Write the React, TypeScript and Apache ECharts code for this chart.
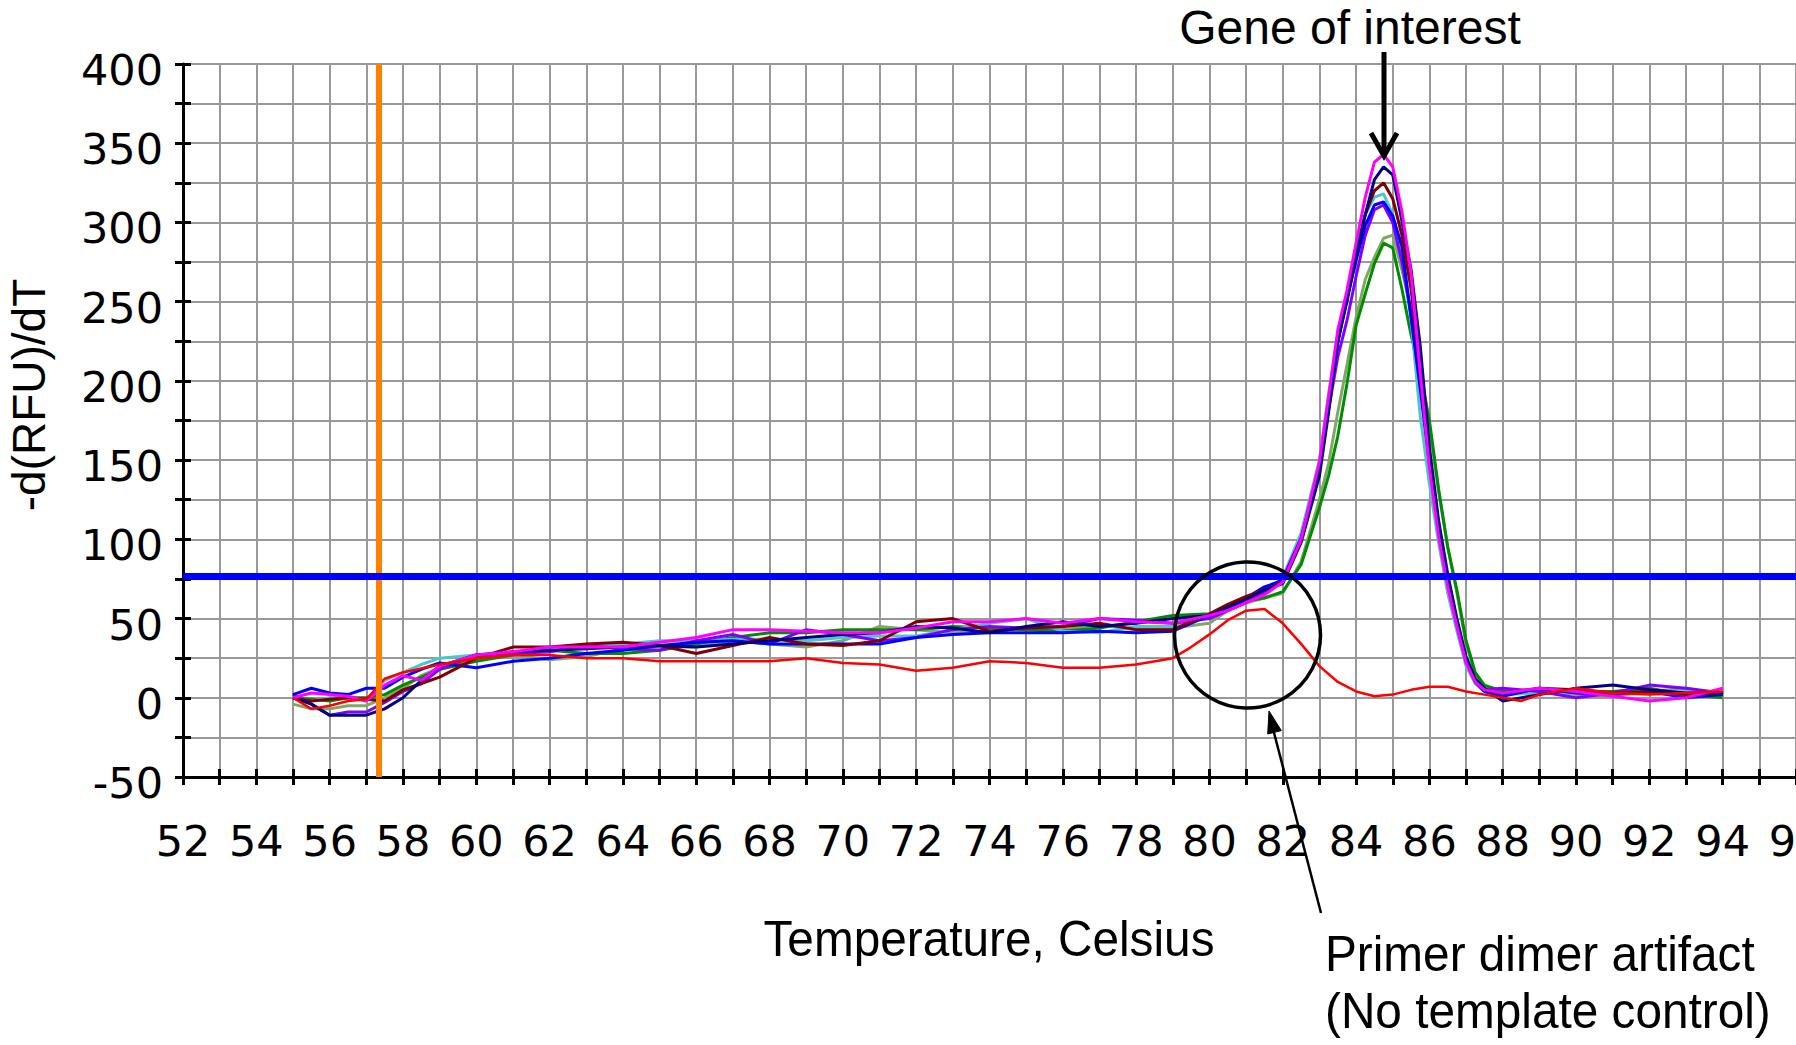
import React, { useEffect, useRef } from 'react';
import * as echarts from 'echarts';

// Temperatures (°C) at which the sample curves were read
const sampleTemps = [55, 55.5, 56, 56.5, 57, 57.5, 58, 58.5, 59, 60, 61, 62, 63, 64, 65, 66, 67, 68, 69, 70, 71, 72, 73, 74, 75, 76, 77, 78, 79, 80, 80.5, 81, 81.5, 82, 82.5, 83, 83.25, 83.5, 83.75, 84, 84.25, 84.5, 84.75, 85, 85.25, 85.5, 85.75, 86, 86.25, 86.5, 86.75, 87, 87.25, 87.5, 88, 89, 90, 91, 92, 93, 94];

// -d(RFU)/dT of each sample well
const blueWell = [2, 6, 3, 2, 6, 6, 13, 18, 22, 19, 23, 25, 28, 30, 33, 35, 36, 34, 34, 34, 34, 38, 40, 41, 41, 41, 42, 41, 42, 52, 58, 63, 70, 74, 100, 146, 185, 224, 252, 276, 298, 311, 313, 304, 285, 240, 195, 148, 106, 72, 46, 23, 10, 4, 1, 6, 3, 2, 4, 0, 2];
const magentaWell = [0, 3, 2, 1, -2, 8, 14, 11, 20, 27, 29, 32, 32, 32, 35, 38, 43, 43, 42, 41, 41, 44, 48, 48, 50, 47, 50, 48, 47, 52, 55, 60, 65, 73, 100, 149, 190, 232, 257, 287, 316, 338, 343, 335, 307, 268, 205, 145, 102, 70, 45, 22, 10, 5, 3, 6, 4, 1, -2, 0, 6];
const navyWell = [0, -4, -11, -11, -11, -7, 0, 11, 20, 27, 29, 30, 31, 32, 33, 32, 34, 36, 38, 40, 41, 45, 44, 41, 45, 48, 45, 47, 50, 52, 57, 62, 68, 72, 98, 140, 180, 225, 250, 278, 305, 327, 335, 330, 301, 270, 222, 158, 112, 78, 50, 26, 12, 6, -2, 2, 6, 8, 5, 3, 3];
const maroonWell = [0, -2, -1, 0, -1, -2, 5, 9, 13, 25, 32, 32, 34, 35, 33, 28, 33, 38, 34, 33, 36, 48, 50, 42, 44, 45, 47, 43, 43, 53, 59, 64, 68, 73, 100, 145, 185, 225, 255, 282, 305, 320, 325, 315, 292, 258, 205, 150, 108, 75, 48, 24, 11, 5, 3, 6, 5, 3, 4, 2, 3];
const cyanWell = [0, -2, 0, 0, -2, 11, 16, 21, 25, 27, 28, 29, 32, 34, 36, 36, 37, 37, 36, 38, 39, 39, 43, 47, 50, 42, 41, 45, 45, 53, 57, 61, 66, 76, 104, 150, 192, 228, 255, 285, 305, 316, 318, 305, 280, 238, 178, 135, 98, 66, 42, 20, 9, 4, 2, 3, 4, 2, 3, 4, 3];
const purpleWell = [2, -4, -11, -9, -9, -3, 4, 9, 18, 27, 28, 29, 33, 31, 30, 36, 40, 34, 43, 40, 36, 38, 43, 45, 44, 45, 50, 49, 47, 50, 55, 60, 66, 75, 101, 144, 182, 215, 238, 266, 292, 308, 311, 300, 275, 242, 198, 150, 108, 74, 47, 24, 11, 5, 6, 4, 0, 3, 8, 6, 3];
const greenWell = [0, -1, -2, 0, 0, 2, 8, 13, 18, 23, 27, 30, 28, 28, 30, 34, 38, 41, 41, 43, 43, 43, 45, 44, 43, 42, 44, 48, 52, 53, 56, 61, 63, 67, 84, 120, 140, 165, 198, 235, 255, 274, 287, 284, 258, 229, 205, 175, 132, 95, 68, 36, 16, 8, 4, 4, 4, 4, 6, 2, 0];
const sageWell = [-4, -7, -7, -5, -5, 0, 6, 14, 19, 24, 27, 24, 26, 31, 32, 32, 36, 34, 32, 36, 45, 43, 41, 42, 44, 43, 46, 43, 44, 47, 55, 60, 63, 66, 86, 125, 148, 180, 210, 240, 264, 278, 290, 292, 270, 245, 208, 172, 130, 95, 66, 34, 15, 7, 5, 4, 2, 1, 4, 6, 2];

// No template control (primer dimer)
const ntcTemps = [55, 55.5, 56, 56.5, 57, 57.5, 58, 59, 60, 61, 62, 63, 64, 65, 66, 67, 68, 69, 70, 71, 72, 73, 74, 75, 76, 77, 78, 79, 79.5, 80, 80.5, 81, 81.5, 82, 82.5, 83, 83.5, 84, 84.5, 85, 85.5, 86, 86.5, 87, 87.5, 88, 88.5, 89, 90, 91, 92, 93, 94];
const ntcWell = [0, -7, -5, -2, -1, 12, 16, 21, 25, 27, 27, 25, 25, 23, 23, 23, 23, 25, 22, 21, 17, 19, 23, 22, 19, 19, 21, 25, 32, 40, 49, 55, 56, 47, 34, 20, 10, 4, 1, 2, 5, 7, 7, 4, 2, 0, -2, 2, 6, 3, 2, 3, 4];

// Reference lines
const beginTemp = 57.33;
const threshold = 76.5;

const wells = [
  { name: 'Sage', color: '#7fa866', values: sageWell },
  { name: 'Green', color: '#008c00', values: greenWell },
  { name: 'Cyan', color: '#48c8c8', values: cyanWell },
  { name: 'Purple', color: '#8000ff', values: purpleWell },
  { name: 'Blue', color: '#0000ff', values: blueWell },
  { name: 'Maroon', color: '#800000', values: maroonWell },
  { name: 'Navy', color: '#000080', values: navyWell },
  { name: 'Magenta', color: '#ff00ff', values: magentaWell },
];

const W = 1796;
const H = 1045;
const GRID_LEFT = 183;
const GRID_TOP = 64;
const GRID_BOTTOM = 268;

export default function App() {
  const ref = useRef<HTMLDivElement>(null);

  useEffect(() => {
    document.body.style.margin = '0';
    document.body.style.background = '#fff';
    document.body.style.overflow = 'hidden';
    if (!ref.current) return;
    const chart = echarts.init(ref.current, undefined, { renderer: 'svg' });

    const gridGray = '#999999';
    const tickFont = { fontFamily: 'DejaVu Sans', fontSize: 43, color: '#000' };

    const xBase = {
      type: 'value',
      min: 52,
      max: 96,
      interval: 1,
      position: 'bottom',
      gridIndex: 0,
    };
    const yBase = {
      type: 'value',
      min: -50,
      max: 400,
      interval: 25,
      position: 'left',
      gridIndex: 0,
    };

    const series: any[] = wells.map((w) => ({
      name: w.name,
      type: 'line',
      data: sampleTemps.map((t, i) => [t, w.values[i]]),
      showSymbol: false,
      symbol: 'none',
      lineStyle: { color: w.color, width: 3 },
      itemStyle: { color: w.color },
      z: 3,
    }));
    series.unshift({
      name: 'NTC',
      type: 'line',
      data: ntcTemps.map((t, i) => [t, ntcWell[i]]),
      showSymbol: false,
      symbol: 'none',
      lineStyle: { color: '#ff0000', width: 2.5 },
      itemStyle: { color: '#ff0000' },
      z: 4,
    });
    series.push({
      name: 'refs',
      type: 'line',
      data: [],
      z: 10,
      markLine: {
        silent: true,
        symbol: ['none', 'none'],
        label: { show: false },
        animation: false,
        data: [
          { xAxis: beginTemp, lineStyle: { color: '#ff8000', width: 6, type: 'solid' } },
          { yAxis: threshold, lineStyle: { color: '#0000ff', width: 7, type: 'solid' } },
        ],
      },
    });

    const bigText = (text: string, x: number, y: number, align: string, scaleX: number, size: number) => ({
      type: 'text',
      x,
      y,
      scaleX,
      z: 20,
      style: {
        text,
        fontFamily: 'Liberation Sans',
        fontSize: size,
        fill: '#000',
        align,
        verticalAlign: 'middle',
        textAlign: align,
        textVerticalAlign: 'middle',
      },
    });

    const option: any = {
      animation: false,
      backgroundColor: '#ffffff',
      grid: {
        left: GRID_LEFT,
        top: GRID_TOP,
        right: 0,
        bottom: GRID_BOTTOM,
        containLabel: false,
        outerBoundsMode: 'none',
      },
      xAxis: [
        {
          ...xBase,
          axisLine: { show: true, onZero: false, lineStyle: { color: '#000', width: 3 } },
          axisTick: { show: true, inside: false, length: 8, lineStyle: { color: '#000', width: 3 } },
          axisLabel: {
            ...tickFont,
            margin: 42,
            showMaxLabel: true,
            hideOverlap: false,
            formatter: (v: number) => (Math.round(v) % 2 === 0 && Math.abs(v - Math.round(v)) < 1e-6 ? String(Math.round(v)) : ''),
          },
          splitLine: { show: true, lineStyle: { color: gridGray, width: 2 } },
        },
        {
          ...xBase,
          axisLine: { show: false, onZero: false },
          axisTick: { show: true, inside: true, length: 8, lineStyle: { color: '#000', width: 3 } },
          axisLabel: { show: false },
          splitLine: { show: false },
        },
      ],
      yAxis: [
        {
          ...yBase,
          axisLine: { show: true, onZero: false, lineStyle: { color: '#000', width: 3 } },
          axisTick: { show: true, inside: false, length: 8, lineStyle: { color: '#000', width: 3 } },
          axisLabel: {
            ...tickFont,
            margin: 20,
            verticalAlign: 'top',
            lineHeight: 12,
            formatter: (v: number) => (v % 50 === 0 ? String(v) : ''),
          },
          splitLine: { show: true, lineStyle: { color: gridGray, width: 2 } },
        },
        {
          ...yBase,
          axisLine: { show: false, onZero: false },
          axisTick: { show: true, inside: true, length: 8, lineStyle: { color: '#000', width: 3 } },
          axisLabel: { show: false },
          splitLine: { show: false },
        },
      ],
      series,
      graphic: [
        {
          type: 'text',
          x: 29,
          y: 395,
          rotation: Math.PI / 2,
          z: 20,
          style: {
            text: '-d(RFU)/dT',
            fontFamily: 'Liberation Sans',
            fontSize: 46,
            fill: '#000',
            align: 'center',
            verticalAlign: 'middle',
            textAlign: 'center',
            textVerticalAlign: 'middle',
          },
        },
        bigText('Gene of interest', 1350, 27, 'center', 1.0, 48),
        {
          type: 'line',
          z: 20,
          shape: { x1: 1384, y1: 52, x2: 1384, y2: 153 },
          style: { stroke: '#000', lineWidth: 5 },
        },
        {
          type: 'polyline',
          z: 20,
          shape: { points: [[1371, 133], [1384, 156], [1397, 133]] },
          style: { stroke: '#000', lineWidth: 5, fill: 'none' },
        },
        {
          type: 'circle',
          z: 20,
          shape: { cx: 1247.5, cy: 635, r: 73 },
          style: { stroke: '#000', lineWidth: 3.5, fill: 'none' },
        },
        {
          type: 'line',
          z: 20,
          shape: { x1: 1321, y1: 913, x2: 1272, y2: 725 },
          style: { stroke: '#000', lineWidth: 2.5 },
        },
        {
          type: 'polygon',
          z: 20,
          shape: { points: [[1269, 711], [1281.3, 730.6], [1267.7, 734.0]] },
          style: { fill: '#000', stroke: '#000', lineWidth: 1 },
        },
        bigText('Temperature, Celsius', 989, 939, 'center', 0.955, 50),
        bigText('Primer dimer artifact', 1325, 954, 'left', 0.955, 50),
        bigText('(No template control)', 1325, 1011, 'left', 0.955, 50),
      ],
    };

    chart.setOption(option);
    return () => {
      chart.dispose();
    };
  }, []);

  return (
    <div
      ref={ref}
      style={{ position: 'absolute', left: 0, top: 0, width: W, height: H, background: '#fff' }}
    />
  );
}
